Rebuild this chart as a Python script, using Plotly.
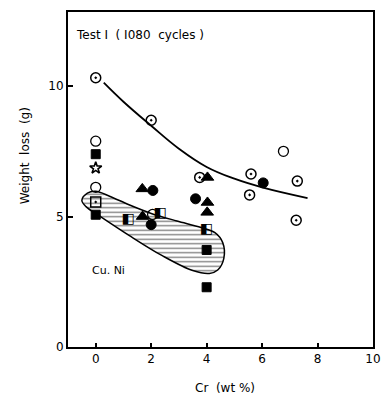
import plotly.graph_objects as go

# Data
circ_dot_x = [0.0, 2.0, 3.75, 5.6, 5.55, 7.27, 7.23]
circ_dot_y = [10.32, 8.69, 6.5, 6.63, 5.83, 6.36, 4.86]

open_circ_x = [0.0, 0.0, 6.77, 2.05]
open_circ_y = [7.89, 6.12, 7.5, 5.08]

fill_sq_x = [0.0, 0.0, 4.0, 4.0]
fill_sq_y = [7.39, 5.07, 3.72, 2.29]

star_x = [0.0]
star_y = [6.86]

sq_dot_x = [0.0]
sq_dot_y = [5.56]

tri_x = [1.68, 1.69, 4.03, 4.03, 4.02]
tri_y = [6.06, 5.0, 6.5, 5.54, 5.16]

fill_circ_x = [2.06, 2.0, 3.6, 6.04]
fill_circ_y = [6.0, 4.69, 5.68, 6.29]

half_sq_x = [1.18, 2.33, 4.0]
half_sq_y = [4.9, 5.1, 4.52]

curve_x = [0.29, 1.0, 2.0, 3.0, 4.0, 5.0, 6.0, 7.64]
curve_y = [10.13, 9.4, 8.48, 7.6, 6.9, 6.45, 6.12, 5.71]

blob_x = [-0.5, -0.3, 0.0, 0.5, 1.2, 2.0, 2.93, 3.8, 4.3, 4.58, 4.62, 4.4, 4.1,
          3.5, 2.4, 1.2, 0.2, -0.35, -0.5]
blob_y = [5.62, 5.9, 5.97, 5.78, 5.45, 5.12, 4.83, 4.58, 4.38, 4.0, 3.4, 2.95, 2.82,
          2.93, 3.5, 4.28, 4.98, 5.38, 5.62]

x_ticks = [0, 2, 4, 6, 8, 10]
y_ticks = [0, 5, 10]

FONT = "DejaVu Sans"
fig = go.Figure()

fig.add_trace(go.Scatter(
    x=blob_x, y=blob_y, mode="lines", fill="toself",
    line=dict(color="black", width=1.5, shape="spline", smoothing=1.0),
    fillcolor="white",
    fillpattern=dict(shape="-", fgcolor="black", bgcolor="white", size=4.5, solidity=0.3),
    hoverinfo="skip"))

fig.add_trace(go.Scatter(
    x=curve_x, y=curve_y, mode="lines",
    line=dict(color="black", width=1.8, shape="spline", smoothing=1.2)))

def mk(x, y, symbol, size=9, lw=1.5):
    fig.add_trace(go.Scatter(
        x=x, y=y, mode="markers",
        marker=dict(symbol=symbol, size=size, color="black",
                    line=dict(color="black", width=lw))))

mk(circ_dot_x, circ_dot_y, "circle-open-dot", 10, 1.5)
mk(open_circ_x, open_circ_y, "circle-open", 10, 1.3)
mk(fill_sq_x, fill_sq_y, "square", 9, 1)
mk(star_x, star_y, "star-open", 9, 1.6)
mk(sq_dot_x, sq_dot_y, "square-open-dot", 10, 1.5)
mk(tri_x, tri_y, "triangle-up", 11, 1)
mk(fill_circ_x, fill_circ_y, "circle", 10, 1)

# half-filled squares
fig.add_trace(go.Scatter(
    x=half_sq_x, y=half_sq_y, mode="text", text=["◧"] * len(half_sq_x),
    textposition="middle center",
    textfont=dict(family="DejaVu Sans", size=14, color="black")))

fig.add_annotation(x=1.6, y=11.96, text="Test I  ( I080  cycles )", showarrow=False,
                   font=dict(family=FONT, size=12, color="black"))
fig.add_annotation(x=0.45, y=2.93, text="Cu. Ni", showarrow=False,
                   font=dict(family=FONT, size=11, color="black"))

fig.add_annotation(xref="paper", yref="paper", x=-0.14, y=0.57, xanchor="center",
                   text="Weight  loss  (g)", textangle=-90, showarrow=False,
                   font=dict(family=FONT, size=12, color="black"))
fig.add_annotation(xref="paper", yref="paper", x=0.515, y=-0.095,
                   text="Cr  (wt %)", showarrow=False, yanchor="top",
                   font=dict(family=FONT, size=12, color="black"))

fig.update_layout(
    width=391, height=396,
    margin=dict(l=68, r=15, t=10, b=49),
    paper_bgcolor="white", plot_bgcolor="white",
    showlegend=False,
    font=dict(family=FONT, size=12, color="black"),
)
fig.update_xaxes(range=[-1, 10], tickvals=x_ticks, ticktext=[str(v) for v in x_ticks],
                 ticks="inside", ticklen=4, tickwidth=1.5, tickcolor="black",
                 showline=True, linecolor="black", linewidth=2, mirror=True,
                 showgrid=False, zeroline=False,
                 tickfont=dict(family=FONT, size=12, color="black"))
fig.update_yaxes(range=[0, 12.84], tickvals=y_ticks, ticktext=[str(v) for v in y_ticks],
                 ticks="inside", ticklen=5, tickwidth=1.5, tickcolor="black",
                 showline=True, linecolor="black", linewidth=2, mirror=True,
                 showgrid=False, zeroline=False,
                 tickfont=dict(family=FONT, size=12, color="black"))

fig.write_html("out.html", config={"displayModeBar": False},
               post_script="document.body.style.margin='0';document.body.style.overflow='hidden';")
